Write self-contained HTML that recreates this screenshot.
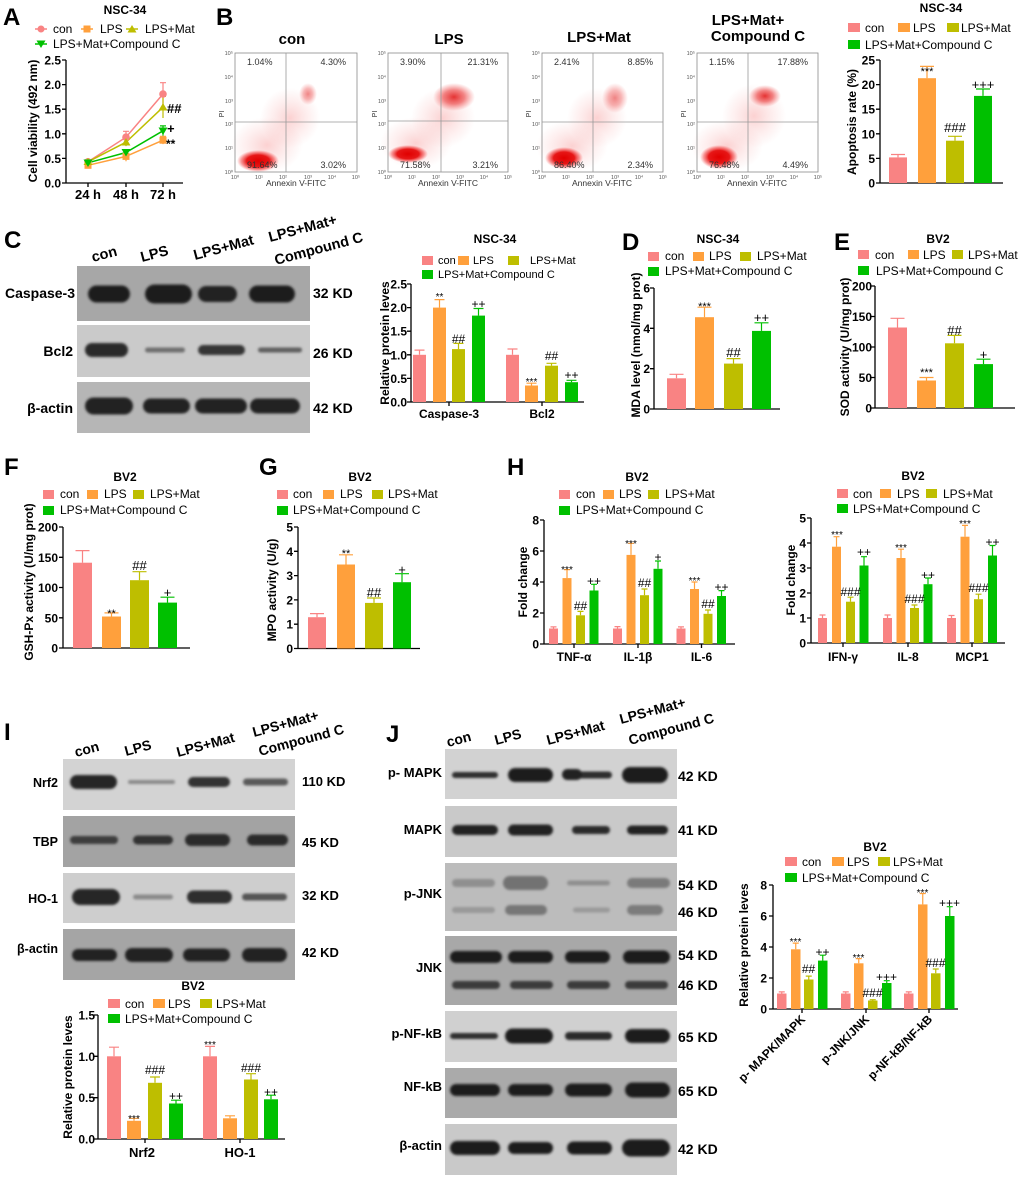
<!DOCTYPE html>
<html><head><meta charset="utf-8"><style>
html,body{margin:0;padding:0;background:#fff}
svg{display:block}
text{font-family:"Liberation Sans",Arial,sans-serif;fill:#000}
.L{font-size:24px;font-weight:bold}
.ttl{font-size:12px;font-weight:bold;text-anchor:middle}
.lg{font-size:12px}
.lgs{font-size:11px}
.tk{font-size:12px;font-weight:bold;text-anchor:end}
.xl{font-size:12px;font-weight:bold;text-anchor:middle}
.yl{font-size:12px;font-weight:bold;text-anchor:middle}
.an{font-size:12px;text-anchor:middle}
.st{font-size:10px;text-anchor:middle}
.bh{font-size:14.5px;font-weight:bold}
.bh2{font-size:14px;font-weight:bold}
.bl{font-size:14px;font-weight:bold;text-anchor:end}
.bl2{font-size:12.5px;font-weight:bold;text-anchor:end}
.bl3{font-size:13px;font-weight:bold;text-anchor:end}
.kd{font-size:14px;font-weight:bold}
.kd2{font-size:13px;font-weight:bold}
.fp{font-size:9px;fill:#333}
.fx{font-size:5.5px;fill:#555}
.ft{font-size:15px;font-weight:bold;text-anchor:middle}
.ax{stroke:#000;stroke-width:1.3;fill:none}
.e1{stroke:#f98383;stroke-width:1.2;fill:none}
.e2{stroke:#ffa03c;stroke-width:1.2;fill:none}
.e3{stroke:#bebe00;stroke-width:1.2;fill:none}
.e4{stroke:#00c000;stroke-width:1.2;fill:none}
</style></head><body>
<svg width="1020" height="1180" viewBox="0 0 1020 1180" xmlns="http://www.w3.org/2000/svg">
<defs>
<filter id="bl" x="-30%" y="-100%" width="160%" height="300%"><feGaussianBlur stdDeviation="1.2"/></filter>
<radialGradient id="gd"><stop offset="0" stop-color="#e00000" stop-opacity="1"/><stop offset="0.55" stop-color="#e40000" stop-opacity="0.9"/><stop offset="0.8" stop-color="#f03030" stop-opacity="0.5"/><stop offset="1" stop-color="#ff5050" stop-opacity="0"/></radialGradient>
<radialGradient id="gs"><stop offset="0" stop-color="#f04040" stop-opacity="0.24"/><stop offset="0.6" stop-color="#f06060" stop-opacity="0.1"/><stop offset="1" stop-color="#f06060" stop-opacity="0"/></radialGradient>
<radialGradient id="gm"><stop offset="0" stop-color="#e01010" stop-opacity="0.85"/><stop offset="0.5" stop-color="#e82020" stop-opacity="0.55"/><stop offset="1" stop-color="#f04040" stop-opacity="0"/></radialGradient>
</defs>
<rect width="1020" height="1180" fill="#fff"/>

<!-- ============ A ============ -->
<text x="3" y="25" class="L">A</text>
<text x="125" y="14" class="ttl">NSC-34</text>
<line x1="35" y1="29" x2="47" y2="29" stroke="#f98383" stroke-width="1.5"/><circle cx="41" cy="29" r="3.5" fill="#f98383"/>
<text x="53" y="33" class="lg">con</text>
<line x1="81" y1="29" x2="93" y2="29" stroke="#ffa03c" stroke-width="1.5"/><rect x="83.5" y="25.5" width="7" height="7" fill="#ffa03c"/>
<text x="100" y="33" class="lg">LPS</text>
<line x1="126" y1="29" x2="138" y2="29" stroke="#bebe00" stroke-width="1.5"/><polygon points="132,25 136.5,32.5 127.5,32.5" fill="#bebe00"/>
<text x="145" y="33" class="lg">LPS+Mat</text>
<line x1="35" y1="44" x2="47" y2="44" stroke="#00c000" stroke-width="1.5"/><polygon points="36.5,40.5 45.5,40.5 41,48" fill="#00c000"/>
<text x="53" y="48" class="lg">LPS+Mat+Compound C</text>
<path class="ax" d="M66 60V183H183M62 60H66M62 84.6H66M62 109.2H66M62 133.8H66M62 158.4H66M62 183H66M88 183v4M126 183v4M163 183v4"/>
<text x="61" y="64.5" class="tk">2.5</text><text x="61" y="89" class="tk">2.0</text><text x="61" y="113.7" class="tk">1.5</text><text x="61" y="138.3" class="tk">1.0</text><text x="61" y="163" class="tk">0.5</text><text x="61" y="187.5" class="tk">0.0</text>
<text x="88" y="199" class="xl" style="font-size:13px">24 h</text><text x="126" y="199" class="xl" style="font-size:13px">48 h</text><text x="163" y="199" class="xl" style="font-size:13px">72 h</text>
<text transform="translate(37,121) rotate(-90)" class="yl">Cell viability (492 nm)</text>
<path class="e1" d="M126 131.3V143.1M123 131.3h6M163 82.7V105.3M160 82.7h6M88 159V164.6"/>
<path class="e3" d="M126 138.3V146.1M163 96.4V118M160 96.4h6"/>
<path class="e4" d="M126 149V156M163 125.9V135.7M160 125.9h6"/>
<path class="e2" d="M126 151.5V161.3M163 136.3V144.1M160 136.3h6"/>
<polyline points="88,161.8 126,137.2 163,94" fill="none" stroke="#f98383" stroke-width="1.5"/>
<polyline points="88,165.3 126,156.4 163,140.2" fill="none" stroke="#ffa03c" stroke-width="1.5"/>
<polyline points="88,161.8 126,142.2 163,107.2" fill="none" stroke="#bebe00" stroke-width="1.5"/>
<polyline points="88,162.8 126,152.5 163,130.8" fill="none" stroke="#00c000" stroke-width="1.5"/>
<circle cx="88" cy="161.8" r="3.8" fill="#f98383"/><circle cx="126" cy="137.2" r="3.8" fill="#f98383"/><circle cx="163" cy="94" r="3.8" fill="#f98383"/>
<rect x="84.5" y="161.8" width="7" height="7" fill="#ffa03c"/><rect x="122.5" y="152.9" width="7" height="7" fill="#ffa03c"/><rect x="159.5" y="136.7" width="7" height="7" fill="#ffa03c"/>
<polygon points="88,157.8 92.5,165 83.5,165" fill="#bebe00"/><polygon points="126,138 130.5,145.5 121.5,145.5" fill="#bebe00"/><polygon points="163,103 167.5,110.5 158.5,110.5" fill="#bebe00"/>
<polygon points="83.5,159.5 92.5,159.5 88,167" fill="#00c000"/><polygon points="121.5,149 130.5,149 126,156.5" fill="#00c000"/><polygon points="158.5,127.5 167.5,127.5 163,135" fill="#00c000"/>
<text x="167" y="113" style="font-size:13px;font-weight:bold">##</text>
<text x="167" y="133" style="font-size:13px;font-weight:bold">+</text>
<text x="166" y="148" style="font-size:12px;font-weight:bold">**</text>

<!-- ============ B flow ============ -->
<text x="216" y="25" class="L">B</text>
<text x="292" y="44" class="ft">con</text>
<text x="449" y="44" class="ft">LPS</text>
<text x="599" y="42" class="ft">LPS+Mat</text>
<text x="748" y="25" class="ft">LPS+Mat+</text>
<text x="758" y="41" class="ft">Compound C</text>

<g transform="translate(235,53)">
<ellipse cx="32" cy="92" rx="36" ry="28" fill="url(#gs)"/>
<ellipse cx="55" cy="65" rx="30" ry="30" fill="url(#gs)"/>
<ellipse cx="73" cy="41" rx="9" ry="11" fill="url(#gm)" opacity="0.6"/>
<ellipse cx="23" cy="108" rx="21" ry="11" fill="url(#gd)"/>
<rect x="0" y="0" width="122" height="119" fill="none" stroke="#8a8a8a" stroke-width="0.8"/>
<path d="M51 0V119M0 69H122" stroke="#999" stroke-width="0.8"/>
<text x="12" y="12" class="fp">1.04%</text><text x="111" y="12" class="fp" text-anchor="end">4.30%</text>
<text x="12" y="115" class="fp">91.64%</text><text x="111" y="115" class="fp" text-anchor="end">3.02%</text>
<text x="-2" y="2" class="fx" text-anchor="end">10⁵</text><text x="-2" y="26" class="fx" text-anchor="end">10⁴</text><text x="-2" y="50" class="fx" text-anchor="end">10³</text><text x="-2" y="73" class="fx" text-anchor="end">10²</text><text x="-2" y="97" class="fx" text-anchor="end">10¹</text><text x="-2" y="121" class="fx" text-anchor="end">10⁰</text>
<text x="0" y="126" class="fx" text-anchor="middle">10⁰</text><text x="24" y="126" class="fx" text-anchor="middle">10¹</text><text x="48" y="126" class="fx" text-anchor="middle">10²</text><text x="73" y="126" class="fx" text-anchor="middle">10³</text><text x="97" y="126" class="fx" text-anchor="middle">10⁴</text><text x="121" y="126" class="fx" text-anchor="middle">10⁵</text>
<text transform="translate(-11,61) rotate(-90)" style="font-size:7px;fill:#333" text-anchor="middle">PI</text>
<text x="61" y="133" style="font-size:8.5px;fill:#333" text-anchor="middle">Annexin V-FITC</text>
</g>
<g transform="translate(388,53)">
<ellipse cx="28" cy="90" rx="36" ry="26" fill="url(#gs)"/>
<ellipse cx="55" cy="65" rx="32" ry="30" fill="url(#gs)"/>
<ellipse cx="66" cy="44" rx="21" ry="14" fill="url(#gm)"/>
<ellipse cx="20" cy="101" rx="20" ry="9" fill="url(#gd)"/>
<rect x="0" y="0" width="120" height="119" fill="none" stroke="#8a8a8a" stroke-width="0.8"/>
<path d="M53 0V119M0 68H120" stroke="#999" stroke-width="0.8"/>
<text x="12" y="12" class="fp">3.90%</text><text x="110" y="12" class="fp" text-anchor="end">21.31%</text>
<text x="12" y="115" class="fp">71.58%</text><text x="110" y="115" class="fp" text-anchor="end">3.21%</text>
<text x="-2" y="2" class="fx" text-anchor="end">10⁵</text><text x="-2" y="26" class="fx" text-anchor="end">10⁴</text><text x="-2" y="50" class="fx" text-anchor="end">10³</text><text x="-2" y="73" class="fx" text-anchor="end">10²</text><text x="-2" y="97" class="fx" text-anchor="end">10¹</text><text x="-2" y="121" class="fx" text-anchor="end">10⁰</text>
<text x="0" y="126" class="fx" text-anchor="middle">10⁰</text><text x="24" y="126" class="fx" text-anchor="middle">10¹</text><text x="48" y="126" class="fx" text-anchor="middle">10²</text><text x="72" y="126" class="fx" text-anchor="middle">10³</text><text x="96" y="126" class="fx" text-anchor="middle">10⁴</text><text x="120" y="126" class="fx" text-anchor="middle">10⁵</text>
<text transform="translate(-11,61) rotate(-90)" style="font-size:7px;fill:#333" text-anchor="middle">PI</text>
<text x="60" y="133" style="font-size:8.5px;fill:#333" text-anchor="middle">Annexin V-FITC</text>
</g>
<g transform="translate(542,53)">
<ellipse cx="30" cy="93" rx="36" ry="26" fill="url(#gs)"/>
<ellipse cx="55" cy="65" rx="30" ry="30" fill="url(#gs)"/>
<ellipse cx="73" cy="45" rx="13" ry="15" fill="url(#gm)" opacity="0.6"/>
<ellipse cx="22" cy="105" rx="19" ry="11" fill="url(#gd)"/>
<rect x="0" y="0" width="121" height="119" fill="none" stroke="#8a8a8a" stroke-width="0.8"/>
<path d="M51 0V119M0 69H121" stroke="#999" stroke-width="0.8"/>
<text x="12" y="12" class="fp">2.41%</text><text x="111" y="12" class="fp" text-anchor="end">8.85%</text>
<text x="12" y="115" class="fp">86.40%</text><text x="111" y="115" class="fp" text-anchor="end">2.34%</text>
<text x="-2" y="2" class="fx" text-anchor="end">10⁵</text><text x="-2" y="26" class="fx" text-anchor="end">10⁴</text><text x="-2" y="50" class="fx" text-anchor="end">10³</text><text x="-2" y="73" class="fx" text-anchor="end">10²</text><text x="-2" y="97" class="fx" text-anchor="end">10¹</text><text x="-2" y="121" class="fx" text-anchor="end">10⁰</text>
<text x="0" y="126" class="fx" text-anchor="middle">10⁰</text><text x="24" y="126" class="fx" text-anchor="middle">10¹</text><text x="48" y="126" class="fx" text-anchor="middle">10²</text><text x="73" y="126" class="fx" text-anchor="middle">10³</text><text x="97" y="126" class="fx" text-anchor="middle">10⁴</text><text x="121" y="126" class="fx" text-anchor="middle">10⁵</text>
<text transform="translate(-11,61) rotate(-90)" style="font-size:7px;fill:#333" text-anchor="middle">PI</text>
<text x="60" y="133" style="font-size:8.5px;fill:#333" text-anchor="middle">Annexin V-FITC</text>
</g>
<g transform="translate(697,53)">
<ellipse cx="30" cy="93" rx="36" ry="26" fill="url(#gs)"/>
<ellipse cx="57" cy="63" rx="32" ry="32" fill="url(#gs)"/>
<ellipse cx="68" cy="43" rx="16" ry="11" fill="url(#gm)"/>
<ellipse cx="22" cy="104" rx="19" ry="12" fill="url(#gd)"/>
<rect x="0" y="0" width="121" height="119" fill="none" stroke="#8a8a8a" stroke-width="0.8"/>
<path d="M51 0V119M0 69H121" stroke="#999" stroke-width="0.8"/>
<text x="12" y="12" class="fp">1.15%</text><text x="111" y="12" class="fp" text-anchor="end">17.88%</text>
<text x="12" y="115" class="fp">76.48%</text><text x="111" y="115" class="fp" text-anchor="end">4.49%</text>
<text x="-2" y="2" class="fx" text-anchor="end">10⁵</text><text x="-2" y="26" class="fx" text-anchor="end">10⁴</text><text x="-2" y="50" class="fx" text-anchor="end">10³</text><text x="-2" y="73" class="fx" text-anchor="end">10²</text><text x="-2" y="97" class="fx" text-anchor="end">10¹</text><text x="-2" y="121" class="fx" text-anchor="end">10⁰</text>
<text x="0" y="126" class="fx" text-anchor="middle">10⁰</text><text x="24" y="126" class="fx" text-anchor="middle">10¹</text><text x="48" y="126" class="fx" text-anchor="middle">10²</text><text x="73" y="126" class="fx" text-anchor="middle">10³</text><text x="97" y="126" class="fx" text-anchor="middle">10⁴</text><text x="121" y="126" class="fx" text-anchor="middle">10⁵</text>
<text transform="translate(-11,61) rotate(-90)" style="font-size:7px;fill:#333" text-anchor="middle">PI</text>
<text x="60" y="133" style="font-size:8.5px;fill:#333" text-anchor="middle">Annexin V-FITC</text>
</g>

<!-- B bar chart -->
<text x="941" y="12" class="ttl">NSC-34</text>
<rect x="848" y="23" width="12" height="9" fill="#f98383"/><text x="865" y="32" class="lg">con</text>
<rect x="898" y="23" width="12" height="9" fill="#ffa03c"/><text x="913" y="32" class="lg">LPS</text>
<rect x="947" y="23" width="12" height="9" fill="#bebe00"/><text x="961" y="32" class="lg">LPS+Mat</text>
<rect x="848" y="40" width="12" height="9" fill="#00c000"/><text x="865" y="49" class="lg">LPS+Mat+Compound C</text>
<path class="ax" d="M880 60V183H1003M876 60H880M876 84.6H880M876 109.2H880M876 133.8H880M876 158.4H880M876 183H880"/>
<text x="875" y="64.5" class="tk">25</text><text x="875" y="89" class="tk">20</text><text x="875" y="113.7" class="tk">15</text><text x="875" y="138.3" class="tk">10</text><text x="875" y="162.9" class="tk">5</text><text x="875" y="187.5" class="tk">0</text>
<rect x="889" y="157.4" width="18" height="25.6" fill="#f98383"/>
<rect x="918" y="78.2" width="18" height="104.8" fill="#ffa03c"/>
<rect x="946" y="140.7" width="18" height="42.3" fill="#bebe00"/>
<rect x="974" y="95.9" width="18" height="87.1" fill="#00c000"/>
<path class="e1" d="M898 157.4V154.5M891 154.5h14"/>
<path class="e2" d="M927 78.2V66.4M920 66.4h14"/>
<path class="e3" d="M955 140.7V136.3M948 136.3h14"/>
<path class="e4" d="M983 95.9V89M976 89h14"/>
<text x="927" y="75" class="st" style="font-size:11px">***</text>
<text x="955" y="132" class="an" style="font-size:13px">###</text>
<text x="983" y="89" class="an" style="font-size:13px">+++</text>
<text transform="translate(856,122) rotate(-90)" class="yl">Apoptosis rate (%)</text>

<!-- ============ C ============ -->
<text x="4" y="248" class="L">C</text>
<text transform="translate(93,262) rotate(-15)" class="bh">con</text>
<text transform="translate(142,262) rotate(-15)" class="bh">LPS</text>
<text transform="translate(195,260) rotate(-15)" class="bh">LPS+Mat</text>
<text transform="translate(270,242) rotate(-15)" class="bh">LPS+Mat+</text>
<text transform="translate(276,265) rotate(-15)" class="bh">Compound C</text>
<rect x="77" y="266" width="233" height="55" fill="#a7a7a7"/>
<rect x="77" y="325" width="233" height="52" fill="#cacaca"/>
<rect x="77" y="382" width="233" height="51" fill="#b6b6b6"/>
<g filter="url(#bl)">
<rect x="88" y="285.5" width="42" height="17" rx="8.5" fill="#1e1e1e"/>
<rect x="145" y="284.5" width="47" height="19" rx="9.5" fill="#1e1e1e"/>
<rect x="198" y="286" width="39" height="16" rx="8" fill="#222"/>
<rect x="249" y="285.5" width="46" height="17" rx="8.5" fill="#1e1e1e"/>
<rect x="85" y="343" width="43" height="14" rx="7" fill="#2a2a2a"/>
<rect x="145" y="347.5" width="40" height="5" rx="2.5" fill="#6e6e6e"/>
<rect x="198" y="345" width="47" height="10" rx="5" fill="#353535"/>
<rect x="258" y="347.5" width="44" height="5" rx="2.5" fill="#5e5e5e"/>
<rect x="85" y="397.5" width="48" height="17" rx="8.5" fill="#222"/>
<rect x="143" y="398.5" width="47" height="15" rx="7.5" fill="#222"/>
<rect x="195" y="398.5" width="52" height="15" rx="7.5" fill="#222"/>
<rect x="250" y="398.5" width="50" height="15" rx="7.5" fill="#222"/>
</g>
<text x="75" y="298" class="bl">Caspase-3</text>
<text x="73" y="356" class="bl">Bcl2</text>
<text x="73" y="413" class="bl">β-actin</text>
<text x="313" y="298" class="kd">32 KD</text>
<text x="313" y="358" class="kd">26 KD</text>
<text x="313" y="413" class="kd">42 KD</text>

<!-- C chart -->
<text x="495" y="243" class="ttl">NSC-34</text>
<rect x="422" y="256" width="11" height="9" fill="#f98383"/><text x="438" y="264" class="lgs">con</text>
<rect x="458" y="256" width="11" height="9" fill="#ffa03c"/><text x="473" y="264" class="lgs">LPS</text>
<rect x="508" y="256" width="11" height="9" fill="#bebe00"/><text x="530" y="264" class="lgs">LPS+Mat</text>
<rect x="422" y="270" width="11" height="9" fill="#00c000"/><text x="438" y="278" class="lgs">LPS+Mat+Compound C</text>
<path class="ax" d="M411 284V402H584M407 284H411M407 307.6H411M407 331.2H411M407 354.8H411M407 378.4H411M407 402H411M449 402v4M542 402v4"/>
<text x="407" y="288.5" class="tk">2.5</text><text x="407" y="312" class="tk">2.0</text><text x="407" y="335.7" class="tk">1.5</text><text x="407" y="359.3" class="tk">1.0</text><text x="407" y="383" class="tk">0.5</text><text x="407" y="406.5" class="tk">0.0</text>
<rect x="413" y="354.8" width="13" height="47.2" fill="#f98383"/>
<rect x="433" y="307.6" width="13" height="94.4" fill="#ffa03c"/>
<rect x="452" y="349.1" width="13" height="52.9" fill="#bebe00"/>
<rect x="472" y="315.6" width="13" height="86.4" fill="#00c000"/>
<rect x="506" y="354.8" width="13" height="47.2" fill="#f98383"/>
<rect x="525" y="385.5" width="13" height="16.5" fill="#ffa03c"/>
<rect x="545" y="365.7" width="13" height="36.3" fill="#bebe00"/>
<rect x="565" y="382.2" width="13" height="19.8" fill="#00c000"/>
<path class="e1" d="M419.5 354.8V350.1M414.5 350.1h10M512.5 354.8V349M507.5 349h10"/>
<path class="e2" d="M439.5 307.6V299.6M434.5 299.6h10M531.5 385.5V383.2M526.5 383.2h10"/>
<path class="e3" d="M458.5 349.1V343.4M453.5 343.4h10M551.5 365.7V363.3M546.5 363.3h10"/>
<path class="e4" d="M478.5 315.6V308.5M473.5 308.5h10M571.5 382.2V380.3M566.5 380.3h10"/>
<text x="439.5" y="300" class="st">**</text>
<text x="458.5" y="343" class="an">##</text>
<text x="478.5" y="308" class="an">++</text>
<text x="531.5" y="385" class="st">***</text>
<text x="551.5" y="360" class="an">##</text>
<text x="571.5" y="379" class="an">++</text>
<text x="449" y="418" class="xl">Caspase-3</text>
<text x="542" y="418" class="xl">Bcl2</text>
<text transform="translate(389,343) rotate(-90)" class="yl">Relative protein leves</text>

<!-- ============ D ============ -->
<text x="622" y="250" class="L">D</text>
<text x="718" y="243" class="ttl">NSC-34</text>
<rect x="648" y="252" width="11" height="9" fill="#f98383"/><text x="665" y="260" class="lg">con</text>
<rect x="693" y="252" width="11" height="9" fill="#ffa03c"/><text x="709" y="260" class="lg">LPS</text>
<rect x="740" y="252" width="11" height="9" fill="#bebe00"/><text x="757" y="260" class="lg">LPS+Mat</text>
<rect x="648" y="267" width="11" height="9" fill="#00c000"/><text x="665" y="275" class="lg">LPS+Mat+Compound C</text>
<path class="ax" d="M654 288V409H780M650 288H654M650 328.3H654M650 368.7H654M650 409H654"/>
<text x="650" y="292.5" class="tk">6</text><text x="650" y="332.8" class="tk">4</text><text x="650" y="373.2" class="tk">2</text><text x="650" y="413.5" class="tk">0</text>
<rect x="667" y="378.3" width="19" height="30.7" fill="#f98383"/>
<rect x="695" y="317.2" width="19" height="91.8" fill="#ffa03c"/>
<rect x="724" y="363.6" width="19" height="45.4" fill="#bebe00"/>
<rect x="752" y="330.9" width="19" height="78.1" fill="#00c000"/>
<path class="e1" d="M676.5 378.3V374.3M669.5 374.3h14"/>
<path class="e2" d="M704.5 317.2V307.2M697.5 307.2h14"/>
<path class="e3" d="M733.5 363.6V358.6M726.5 358.6h14"/>
<path class="e4" d="M761.5 330.9V322.8M754.5 322.8h14"/>
<text x="704.5" y="310" class="st" style="font-size:11px">***</text>
<text x="733.5" y="357" class="an" style="font-size:13px">##</text>
<text x="761.5" y="322" class="an" style="font-size:13px">++</text>
<text transform="translate(640,345) rotate(-90)" class="yl">MDA level (nmol/mg prot)</text>

<!-- ============ E ============ -->
<text x="834" y="250" class="L">E</text>
<text x="938" y="243" class="ttl">BV2</text>
<rect x="858" y="250" width="11" height="9" fill="#f98383"/><text x="875" y="259" class="lg">con</text>
<rect x="908" y="250" width="11" height="9" fill="#ffa03c"/><text x="923" y="259" class="lg">LPS</text>
<rect x="952" y="250" width="11" height="9" fill="#bebe00"/><text x="968" y="259" class="lg">LPS+Mat</text>
<rect x="858" y="266" width="11" height="9" fill="#00c000"/><text x="876" y="275" class="lg">LPS+Mat+Compound C</text>
<path class="ax" d="M875 286V408H1015M871 286H875M871 316.5H875M871 347H875M871 377.5H875M871 408H875"/>
<text x="872" y="290.5" class="tk">200</text><text x="872" y="321" class="tk">150</text><text x="872" y="351.5" class="tk">100</text><text x="872" y="382" class="tk">50</text><text x="872" y="412.5" class="tk">0</text>
<rect x="888" y="327.5" width="19" height="80.5" fill="#f98383"/>
<rect x="917" y="380.5" width="19" height="27.5" fill="#ffa03c"/>
<rect x="945" y="343.3" width="19" height="64.7" fill="#bebe00"/>
<rect x="974" y="364.1" width="19" height="43.9" fill="#00c000"/>
<path class="e1" d="M897.5 327.5V318.3M890.5 318.3h14"/>
<path class="e2" d="M926.5 380.5V377.5M919.5 377.5h14"/>
<path class="e3" d="M954.5 343.3V335.4M947.5 335.4h14"/>
<path class="e4" d="M983.5 364.1V359.2M976.5 359.2h14"/>
<text x="926.5" y="376" class="st" style="font-size:11px">***</text>
<text x="954.5" y="335" class="an" style="font-size:13px">##</text>
<text x="983.5" y="359" class="an" style="font-size:13px">+</text>
<text transform="translate(849,347) rotate(-90)" class="yl">SOD activity (U/mg prot)</text>

<!-- ============ F ============ -->
<text x="4" y="475" class="L">F</text>
<text x="125" y="481" class="ttl">BV2</text>
<rect x="43" y="490" width="11" height="9" fill="#f98383"/><text x="60" y="498" class="lg">con</text>
<rect x="87" y="490" width="11" height="9" fill="#ffa03c"/><text x="104" y="498" class="lg">LPS</text>
<rect x="133" y="490" width="11" height="9" fill="#bebe00"/><text x="150" y="498" class="lg">LPS+Mat</text>
<rect x="43" y="506" width="11" height="9" fill="#00c000"/><text x="60" y="514" class="lg">LPS+Mat+Compound C</text>
<path class="ax" d="M63 527V648H190M59 527H63M59 557.3H63M59 587.5H63M59 617.8H63M59 648H63"/>
<text x="58" y="531.5" class="tk">200</text><text x="58" y="561.8" class="tk">150</text><text x="58" y="592" class="tk">100</text><text x="58" y="622.3" class="tk">50</text><text x="58" y="652.5" class="tk">0</text>
<rect x="73" y="562.7" width="19" height="85.3" fill="#f98383"/>
<rect x="102" y="616.5" width="19" height="31.5" fill="#ffa03c"/>
<rect x="130" y="580.2" width="19" height="67.8" fill="#bebe00"/>
<rect x="158" y="602.6" width="19" height="45.4" fill="#00c000"/>
<path class="e1" d="M82.5 562.7V550.6M75.5 550.6h14"/>
<path class="e2" d="M111.5 616.5V612.9M104.5 612.9h14"/>
<path class="e3" d="M139.5 580.2V571.7M132.5 571.7h14"/>
<path class="e4" d="M167.5 602.6V597.2M160.5 597.2h14"/>
<text x="111.5" y="617" class="st" style="font-size:11px">**</text>
<text x="139.5" y="570" class="an" style="font-size:13px">##</text>
<text x="167.5" y="597" class="an" style="font-size:13px">+</text>
<text transform="translate(33,582) rotate(-90)" class="yl">GSH-Px activity (U/mg prot)</text>

<!-- ============ G ============ -->
<text x="259" y="475" class="L">G</text>
<text x="360" y="481" class="ttl">BV2</text>
<rect x="277" y="490" width="11" height="9" fill="#f98383"/><text x="293" y="498" class="lg">con</text>
<rect x="323" y="490" width="11" height="9" fill="#ffa03c"/><text x="340" y="498" class="lg">LPS</text>
<rect x="372" y="490" width="11" height="9" fill="#bebe00"/><text x="388" y="498" class="lg">LPS+Mat</text>
<rect x="277" y="506" width="11" height="9" fill="#00c000"/><text x="293" y="514" class="lg">LPS+Mat+Compound C</text>
<path class="ax" d="M298 527V648.5H420M294 527H298M294 551.3H298M294 575.6H298M294 599.9H298M294 624.2H298M294 648.5H298"/>
<text x="293" y="531.5" class="tk">5</text><text x="293" y="555.8" class="tk">4</text><text x="293" y="580.1" class="tk">3</text><text x="293" y="604.4" class="tk">2</text><text x="293" y="628.7" class="tk">1</text><text x="293" y="653" class="tk">0</text>
<rect x="308" y="617.2" width="18" height="31.3" fill="#f98383"/>
<rect x="337" y="564.5" width="18" height="84" fill="#ffa03c"/>
<rect x="365" y="602.9" width="18" height="45.6" fill="#bebe00"/>
<rect x="393" y="582.2" width="18" height="66.3" fill="#00c000"/>
<path class="e1" d="M317 617.2V613.6M310 613.6h14"/>
<path class="e2" d="M346 564.5V554.8M339 554.8h14"/>
<path class="e3" d="M374 602.9V598M367 598h14"/>
<path class="e4" d="M402 582.2V573.7M395 573.7h14"/>
<text x="346" y="557" class="st" style="font-size:11px">**</text>
<text x="374" y="597" class="an" style="font-size:13px">##</text>
<text x="402" y="574" class="an" style="font-size:13px">+</text>
<text transform="translate(276,590) rotate(-90)" class="yl">MPO activity (U/g)</text>

<!-- ============ H left ============ -->
<text x="507" y="475" class="L">H</text>
<text x="637" y="481" class="ttl">BV2</text>
<rect x="559" y="490" width="11" height="9" fill="#f98383"/><text x="576" y="498" class="lg">con</text>
<rect x="603" y="490" width="11" height="9" fill="#ffa03c"/><text x="619" y="498" class="lg">LPS</text>
<rect x="648" y="490" width="11" height="9" fill="#bebe00"/><text x="665" y="498" class="lg">LPS+Mat</text>
<rect x="559" y="506" width="11" height="9" fill="#00c000"/><text x="576" y="514" class="lg">LPS+Mat+Compound C</text>
<path class="ax" d="M544 520V644H735M540 520H544M540 551H544M540 582H544M540 613H544M540 644H544M574 644v4M638 644v4M701.5 644v4"/>
<text x="539" y="524.5" class="tk">8</text><text x="539" y="555.5" class="tk">6</text><text x="539" y="586.5" class="tk">4</text><text x="539" y="617.5" class="tk">2</text><text x="539" y="648.5" class="tk">0</text>
<rect x="549" y="628.5" width="9" height="15.5" fill="#f98383"/>
<rect x="562.5" y="578.1" width="9" height="65.9" fill="#ffa03c"/>
<rect x="576" y="615.3" width="9" height="28.7" fill="#bebe00"/>
<rect x="589.5" y="590.5" width="9" height="53.5" fill="#00c000"/>
<rect x="613" y="628.5" width="9" height="15.5" fill="#f98383"/>
<rect x="626.5" y="554.9" width="9" height="89.1" fill="#ffa03c"/>
<rect x="640" y="595.2" width="9" height="48.8" fill="#bebe00"/>
<rect x="653.5" y="568.8" width="9" height="75.2" fill="#00c000"/>
<rect x="676.5" y="628.5" width="9" height="15.5" fill="#f98383"/>
<rect x="690" y="589" width="9" height="55" fill="#ffa03c"/>
<rect x="703.5" y="613.8" width="9" height="30.2" fill="#bebe00"/>
<rect x="717" y="596" width="9" height="48" fill="#00c000"/>
<path class="e1" d="M553.5 628.5V626.9M550.5 626.9h6M617.5 628.5V626.6M614.5 626.6h6M681 628.5V626.9M678 626.9h6"/>
<path class="e2" d="M567 578.1V569.6M564 569.6h6M631 554.9V543.3M628 543.3h6M694.5 589V582M691.5 582h6"/>
<path class="e3" d="M580.5 615.3V611.4M577.5 611.4h6M644.5 595.2V589M641.5 589h6M708 613.8V610M705 610h6"/>
<path class="e4" d="M594 590.5V584.3M591 584.3h6M658 568.8V561M655 561h6M721.5 596V590.6M718.5 590.6h6"/>
<text x="567" y="573" class="st">***</text><text x="580.5" y="610" class="an">##</text><text x="594" y="585" class="an">++</text>
<text x="631" y="547" class="st">***</text><text x="644.5" y="587" class="an">##</text><text x="658" y="561" class="an">+</text>
<text x="694.5" y="584" class="st">***</text><text x="708" y="608" class="an">##</text><text x="721.5" y="591" class="an">++</text>
<text x="574" y="661" class="xl">TNF-α</text><text x="638" y="661" class="xl">IL-1β</text><text x="701.5" y="661" class="xl">IL-6</text>
<text transform="translate(527,582) rotate(-90)" class="yl">Fold change</text>

<!-- ============ H right ============ -->
<text x="913" y="480" class="ttl">BV2</text>
<rect x="837" y="489" width="11" height="9" fill="#f98383"/><text x="853" y="498" class="lg">con</text>
<rect x="880" y="489" width="11" height="9" fill="#ffa03c"/><text x="897" y="498" class="lg">LPS</text>
<rect x="926" y="489" width="11" height="9" fill="#bebe00"/><text x="943" y="498" class="lg">LPS+Mat</text>
<rect x="837" y="504" width="11" height="9" fill="#00c000"/><text x="853" y="513" class="lg">LPS+Mat+Compound C</text>
<path class="ax" d="M811 518V643H1005M807 518H811M807 543H811M807 568H811M807 593H811M807 618H811M807 643H811M843 643v4M908 643v4M972 643v4"/>
<text x="806" y="522.5" class="tk">5</text><text x="806" y="547.5" class="tk">4</text><text x="806" y="572.5" class="tk">3</text><text x="806" y="597.5" class="tk">2</text><text x="806" y="622.5" class="tk">1</text><text x="806" y="647.5" class="tk">0</text>
<rect x="818" y="618" width="9" height="25" fill="#f98383"/>
<rect x="832" y="546.7" width="9" height="96.3" fill="#ffa03c"/>
<rect x="846" y="601.7" width="9" height="41.3" fill="#bebe00"/>
<rect x="859.5" y="565.5" width="9" height="77.5" fill="#00c000"/>
<rect x="883" y="618" width="9" height="25" fill="#f98383"/>
<rect x="896.5" y="558" width="9" height="85" fill="#ffa03c"/>
<rect x="910" y="608" width="9" height="35" fill="#bebe00"/>
<rect x="923.5" y="584.2" width="9" height="58.8" fill="#00c000"/>
<rect x="947" y="618" width="9" height="25" fill="#f98383"/>
<rect x="960.5" y="536.7" width="9" height="106.3" fill="#ffa03c"/>
<rect x="974" y="599.2" width="9" height="43.8" fill="#bebe00"/>
<rect x="988" y="555.5" width="9" height="87.5" fill="#00c000"/>
<path class="e1" d="M822.5 618V615M819.5 615h6M887.5 618V615M884.5 615h6M951.5 618V615.5M948.5 615.5h6"/>
<path class="e2" d="M836.5 546.7V536.7M833.5 536.7h6M901 558V549.2M898 549.2h6M965 536.7V525.4M962 525.4h6"/>
<path class="e3" d="M850.5 601.7V597.2M847.5 597.2h6M914.5 608V605M911.5 605h6M978.5 599.2V594.2M975.5 594.2h6"/>
<path class="e4" d="M864 565.5V556.7M861 556.7h6M928 584.2V578M925 578h6M992.5 555.5V545.5M989.5 545.5h6"/>
<text x="837" y="538" class="st">***</text><text x="850.5" y="596" class="an">###</text><text x="864" y="556" class="an">++</text>
<text x="901" y="551" class="st">***</text><text x="914.5" y="603" class="an">###</text><text x="928" y="579" class="an">++</text>
<text x="965" y="527" class="st">***</text><text x="978.5" y="592" class="an">###</text><text x="992.5" y="546" class="an">++</text>
<text x="843" y="661" class="xl">IFN-γ</text><text x="908" y="661" class="xl">IL-8</text><text x="972" y="661" class="xl">MCP1</text>
<text transform="translate(795,580) rotate(-90)" class="yl">Fold change</text>

<!-- ============ I ============ -->
<text x="4" y="740" class="L">I</text>
<text transform="translate(76,757) rotate(-15)" class="bh2">con</text>
<text transform="translate(126,756) rotate(-15)" class="bh2">LPS</text>
<text transform="translate(178,757) rotate(-15)" class="bh2">LPS+Mat</text>
<text transform="translate(254,737) rotate(-15)" class="bh2">LPS+Mat+</text>
<text transform="translate(260,756) rotate(-15)" class="bh2">Compound C</text>
<rect x="63" y="759" width="232" height="51" fill="#d3d3d3"/>
<rect x="63" y="816" width="232" height="51" fill="#a3a3a3"/>
<rect x="63" y="873" width="232" height="50" fill="#cecece"/>
<rect x="63" y="929" width="232" height="51" fill="#a5a5a5"/>
<g filter="url(#bl)">
<rect x="70" y="775" width="47" height="14" rx="7" fill="#262626"/>
<rect x="128" y="780" width="47" height="4" rx="2" fill="#8a8a8a"/>
<rect x="188" y="777" width="42" height="10" rx="5" fill="#333"/>
<rect x="243" y="778.5" width="45" height="7" rx="3.5" fill="#5a5a5a"/>
<rect x="70" y="836" width="48" height="8" rx="4" fill="#3c3c3c"/>
<rect x="133" y="835.5" width="40" height="9" rx="4.5" fill="#333"/>
<rect x="185" y="834" width="45" height="12" rx="6" fill="#2a2a2a"/>
<rect x="247" y="834.5" width="41" height="11" rx="5.5" fill="#2a2a2a"/>
<rect x="72" y="889" width="48" height="16" rx="8" fill="#262626"/>
<rect x="133" y="894.5" width="40" height="5" rx="2.5" fill="#8a8a8a"/>
<rect x="187" y="890.5" width="45" height="13" rx="6.5" fill="#2e2e2e"/>
<rect x="242" y="893.5" width="45" height="7" rx="3.5" fill="#555"/>
<rect x="72" y="949" width="45" height="12" rx="6" fill="#232323"/>
<rect x="125" y="948" width="48" height="14" rx="7" fill="#232323"/>
<rect x="183" y="948.5" width="47" height="13" rx="6.5" fill="#232323"/>
<rect x="242" y="948" width="45" height="14" rx="7" fill="#232323"/>
</g>
<text x="58" y="787" class="bl2">Nrf2</text>
<text x="58" y="846" class="bl2">TBP</text>
<text x="58" y="903" class="bl2">HO-1</text>
<text x="58" y="953" class="bl2">β-actin</text>
<text x="302" y="786" class="kd2">110 KD</text>
<text x="302" y="847" class="kd2">45 KD</text>
<text x="302" y="900" class="kd2">32 KD</text>
<text x="302" y="957" class="kd2">42 KD</text>

<!-- I chart -->
<text x="193" y="990" class="ttl">BV2</text>
<rect x="108" y="999" width="12" height="9" fill="#f98383"/><text x="125" y="1008" class="lg">con</text>
<rect x="153" y="999" width="12" height="9" fill="#ffa03c"/><text x="168" y="1008" class="lg">LPS</text>
<rect x="200" y="999" width="12" height="9" fill="#bebe00"/><text x="216" y="1008" class="lg">LPS+Mat</text>
<rect x="108" y="1014" width="12" height="9" fill="#00c000"/><text x="125" y="1023" class="lg">LPS+Mat+Compound C</text>
<path class="ax" d="M98 1015V1139H285M94 1015H98M94 1056.3H98M94 1097.7H98M94 1139H98M145 1139v4M240 1139v4"/>
<text x="95" y="1019.5" class="tk">1.5</text><text x="95" y="1060.8" class="tk">1.0</text><text x="95" y="1102.2" class="tk">0.5</text><text x="95" y="1143.5" class="tk">0.0</text>
<rect x="107" y="1056.3" width="14" height="82.7" fill="#f98383"/>
<rect x="127" y="1120.8" width="14" height="18.2" fill="#ffa03c"/>
<rect x="148" y="1082.8" width="14" height="56.2" fill="#bebe00"/>
<rect x="169" y="1103.5" width="14" height="35.5" fill="#00c000"/>
<rect x="203" y="1056.3" width="14" height="82.7" fill="#f98383"/>
<rect x="223" y="1118.3" width="14" height="20.7" fill="#ffa03c"/>
<rect x="244" y="1079.5" width="14" height="59.5" fill="#bebe00"/>
<rect x="264" y="1099.3" width="14" height="39.7" fill="#00c000"/>
<path class="e1" d="M114 1056.3V1047.2M109 1047.2h10M210 1056.3V1046.4M205 1046.4h10"/>
<path class="e2" d="M134 1120.8V1118.3M129 1118.3h10M230 1118.3V1115.8M225 1115.8h10"/>
<path class="e3" d="M155 1082.8V1077M150 1077h10M251 1079.5V1073.7M246 1073.7h10"/>
<path class="e4" d="M176 1103.5V1100.2M171 1100.2h10M271 1099.3V1095.2M266 1095.2h10"/>
<text x="134" y="1122" class="st">***</text><text x="155" y="1074" class="an">###</text><text x="176" y="1100" class="an">++</text>
<text x="210" y="1048" class="st">***</text><text x="251" y="1072" class="an">###</text><text x="271" y="1096" class="an">++</text>
<text x="142" y="1157" class="xl" style="font-size:13px">Nrf2</text><text x="240" y="1157" class="xl" style="font-size:13px">HO-1</text>
<text transform="translate(72,1077) rotate(-90)" class="yl">Relative protein leves</text>

<!-- ============ J ============ -->
<text x="386" y="742" class="L">J</text>
<text transform="translate(448,747) rotate(-15)" class="bh2">con</text>
<text transform="translate(496,745) rotate(-15)" class="bh2">LPS</text>
<text transform="translate(548,745) rotate(-15)" class="bh2">LPS+Mat</text>
<text transform="translate(621,724) rotate(-15)" class="bh2">LPS+Mat+</text>
<text transform="translate(630,745) rotate(-15)" class="bh2">Compound C</text>
<rect x="445" y="749" width="232" height="50" fill="#d2d2d2"/>
<rect x="445" y="806" width="232" height="51" fill="#c9c9c9"/>
<rect x="445" y="863" width="232" height="68" fill="#bcbcbc"/>
<rect x="445" y="936" width="232" height="69" fill="#a8a8a8"/>
<rect x="445" y="1011" width="232" height="51" fill="#d0d0d0"/>
<rect x="445" y="1068" width="232" height="50" fill="#aaaaaa"/>
<rect x="445" y="1124" width="232" height="51" fill="#c9c9c9"/>
<g filter="url(#bl)">
<rect x="452" y="772" width="46" height="6" rx="3" fill="#2e2e2e"/>
<rect x="508" y="768" width="45" height="14" rx="7" fill="#1e1e1e"/>
<rect x="565" y="771.5" width="47" height="7" rx="3.5" fill="#2e2e2e"/>
<rect x="562" y="769" width="20" height="11" rx="5.5" fill="#222"/>
<rect x="622" y="767" width="46" height="16" rx="8" fill="#1e1e1e"/>
<rect x="452" y="825" width="46" height="10" rx="5" fill="#222"/>
<rect x="508" y="824.5" width="45" height="11" rx="5.5" fill="#222"/>
<rect x="572" y="826" width="38" height="8" rx="4" fill="#2a2a2a"/>
<rect x="627" y="825.5" width="41" height="9" rx="4.5" fill="#222"/>
<rect x="452" y="879" width="43" height="8" rx="4" fill="#8f8f8f"/>
<rect x="503" y="876" width="45" height="14" rx="7" fill="#727272"/>
<rect x="567" y="880.5" width="43" height="5" rx="2.5" fill="#8f8f8f"/>
<rect x="627" y="878" width="43" height="10" rx="5" fill="#7a7a7a"/>
<rect x="452" y="907" width="43" height="6" rx="3" fill="#999"/>
<rect x="505" y="905" width="42" height="10" rx="5" fill="#777"/>
<rect x="573" y="907.5" width="37" height="5" rx="2.5" fill="#9a9a9a"/>
<rect x="627" y="905" width="36" height="10" rx="5" fill="#7c7c7c"/>
<rect x="450" y="951" width="52" height="12" rx="6" fill="#1e1e1e"/>
<rect x="508" y="951" width="45" height="12" rx="6" fill="#1e1e1e"/>
<rect x="565" y="951" width="45" height="12" rx="6" fill="#1e1e1e"/>
<rect x="623" y="950.5" width="47" height="13" rx="6.5" fill="#1e1e1e"/>
<rect x="452" y="981" width="48" height="8" rx="4" fill="#3a3a3a"/>
<rect x="510" y="981" width="43" height="8" rx="4" fill="#3a3a3a"/>
<rect x="567" y="981" width="43" height="8" rx="4" fill="#3a3a3a"/>
<rect x="625" y="981" width="43" height="8" rx="4" fill="#3a3a3a"/>
<rect x="450" y="1033" width="48" height="6" rx="3" fill="#2e2e2e"/>
<rect x="505" y="1028.5" width="48" height="15" rx="7.5" fill="#1e1e1e"/>
<rect x="565" y="1032" width="47" height="8" rx="4" fill="#2a2a2a"/>
<rect x="625" y="1029" width="45" height="14" rx="7" fill="#1e1e1e"/>
<rect x="450" y="1084" width="50" height="12" rx="6" fill="#1e1e1e"/>
<rect x="508" y="1084" width="45" height="12" rx="6" fill="#1e1e1e"/>
<rect x="565" y="1083.5" width="47" height="13" rx="6.5" fill="#1e1e1e"/>
<rect x="625" y="1082.5" width="45" height="15" rx="7.5" fill="#1e1e1e"/>
<rect x="450" y="1141" width="50" height="14" rx="7" fill="#1e1e1e"/>
<rect x="508" y="1142" width="45" height="12" rx="6" fill="#1e1e1e"/>
<rect x="567" y="1141.5" width="45" height="13" rx="6.5" fill="#1e1e1e"/>
<rect x="622" y="1139.5" width="48" height="17" rx="8.5" fill="#1e1e1e"/>
</g>
<text x="442" y="777" class="bl3">p- MAPK</text>
<text x="442" y="834" class="bl3">MAPK</text>
<text x="442" y="898" class="bl3">p-JNK</text>
<text x="442" y="972" class="bl3">JNK</text>
<text x="442" y="1038" class="bl3">p-NF-kB</text>
<text x="442" y="1091" class="bl3">NF-kB</text>
<text x="442" y="1150" class="bl3">β-actin</text>
<text x="678" y="781" class="kd">42 KD</text>
<text x="678" y="835" class="kd">41 KD</text>
<text x="678" y="890" class="kd">54 KD</text>
<text x="678" y="917" class="kd">46 KD</text>
<text x="678" y="960" class="kd">54 KD</text>
<text x="678" y="990" class="kd">46 KD</text>
<text x="678" y="1042" class="kd">65 KD</text>
<text x="678" y="1096" class="kd">65 KD</text>
<text x="678" y="1154" class="kd">42 KD</text>

<!-- J chart -->
<text x="875" y="851" class="ttl">BV2</text>
<rect x="785" y="857" width="12" height="9" fill="#f98383"/><text x="802" y="866" class="lg">con</text>
<rect x="832" y="857" width="12" height="9" fill="#ffa03c"/><text x="847" y="866" class="lg">LPS</text>
<rect x="878" y="857" width="12" height="9" fill="#bebe00"/><text x="893" y="866" class="lg">LPS+Mat</text>
<rect x="785" y="873" width="12" height="9" fill="#00c000"/><text x="802" y="882" class="lg">LPS+Mat+Compound C</text>
<path class="ax" d="M773 885V1009H958M769 885H773M769 916H773M769 947H773M769 978H773M769 1009H773M802 1009v4M866 1009v4M929 1009v4"/>
<text x="767" y="889.5" class="tk">8</text><text x="767" y="920.5" class="tk">6</text><text x="767" y="951.5" class="tk">4</text><text x="767" y="982.5" class="tk">2</text><text x="767" y="1013.5" class="tk">0</text>
<rect x="777" y="993.5" width="9.5" height="15.5" fill="#f98383"/>
<rect x="791" y="949.3" width="9.5" height="59.7" fill="#ffa03c"/>
<rect x="804" y="979.5" width="9.5" height="29.5" fill="#bebe00"/>
<rect x="818" y="960.6" width="9.5" height="48.4" fill="#00c000"/>
<rect x="841" y="993.5" width="9.5" height="15.5" fill="#f98383"/>
<rect x="854" y="963.3" width="9.5" height="45.7" fill="#ffa03c"/>
<rect x="868" y="1000.5" width="9.5" height="8.5" fill="#bebe00"/>
<rect x="882" y="983" width="9.5" height="26" fill="#00c000"/>
<rect x="904" y="993.5" width="9.5" height="15.5" fill="#f98383"/>
<rect x="918" y="904.4" width="9.5" height="104.6" fill="#ffa03c"/>
<rect x="931" y="973.3" width="9.5" height="35.7" fill="#bebe00"/>
<rect x="945" y="916" width="9.5" height="93" fill="#00c000"/>
<path class="e1" d="M781.75 993.5V991.9M778.75 991.9h6M845.75 993.5V991.9M842.75 991.9h6M908.75 993.5V991.9M905.75 991.9h6"/>
<path class="e2" d="M795.75 949.3V943.1M792.75 943.1h6M858.75 963.3V958.6M855.75 958.6h6M922.75 904.4V893.5M919.75 893.5h6"/>
<path class="e3" d="M808.75 979.5V976.1M805.75 976.1h6M872.75 1000.5V999.7M869.75 999.7h6M935.75 973.3V969M932.75 969h6"/>
<path class="e4" d="M822.75 960.6V955.2M819.75 955.2h6M886.75 983V980.7M883.75 980.7h6M949.75 916V906.7M946.75 906.7h6"/>
<text x="795.5" y="945" class="st">***</text><text x="808.5" y="973" class="an">##</text><text x="822.5" y="956" class="an">++</text>
<text x="858.5" y="961" class="st">***</text><text x="872.5" y="997" class="an">###</text><text x="886.5" y="981" class="an">+++</text>
<text x="922.5" y="896" class="st">***</text><text x="935.5" y="967" class="an">###</text><text x="949.5" y="907" class="an">+++</text>
<text transform="translate(806,1020) rotate(-45)" class="xl" style="text-anchor:end">p- MAPK/MAPK</text>
<text transform="translate(870,1020) rotate(-45)" class="xl" style="text-anchor:end">p-JNK/JNK</text>
<text transform="translate(933,1020) rotate(-45)" class="xl" style="text-anchor:end">p-NF-kB/NF-kB</text>
<text transform="translate(748,945) rotate(-90)" class="yl">Relative protein leves</text>
</svg>
</body></html>
